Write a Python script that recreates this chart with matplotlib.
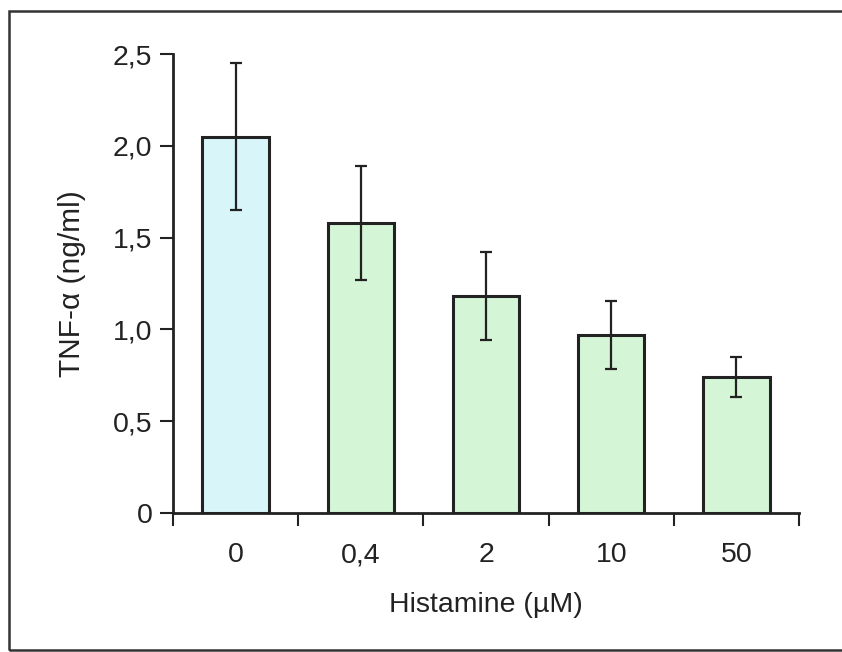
import matplotlib
matplotlib.use("Agg")
import matplotlib.pyplot as plt
from matplotlib.patches import Rectangle

categories = ["0", "0,4", "2", "10", "50"]
values = [2.05, 1.58, 1.18, 0.97, 0.74]
errors = [0.40, 0.31, 0.24, 0.185, 0.11]
colors = ["#D8F6FA", "#D4F5D6", "#D4F5D6", "#D4F5D6", "#D4F5D6"]
ytick_vals = [0, 0.5, 1.0, 1.5, 2.0, 2.5]
ytick_labels = ["0", "0,5", "1,0", "1,5", "2,0", "2,5"]

plt.rcParams['font.family'] = ['Liberation Sans', 'DejaVu Sans']

W, H = 842, 652
fig = plt.figure(figsize=(W / 100, H / 100), dpi=100)
ax = fig.add_axes([173 / W, (H - 513) / H, (799 - 173) / W, (513 - 54) / H])

x = list(range(len(categories)))
ax.bar(x, values, width=0.53, color=colors, edgecolor="#222222", linewidth=2.2, zorder=2)
ax.errorbar(x, values, yerr=errors, fmt="none", ecolor="#222222", elinewidth=1.6,
            capsize=4.5, capthick=1.6, zorder=3)

ax.set_xlim(-0.5, len(categories) - 0.5)
ax.set_ylim(0, 2.5)
ax.set_yticks(ytick_vals)
ax.set_yticklabels(ytick_labels, fontsize=20.5, color="#222222")
ax.set_xticks([i - 0.5 for i in range(len(categories) + 1)])
ax.set_xticklabels([])
ax.set_xticks(x, minor=True)
ax.set_xticklabels(categories, minor=True, fontsize=20.5, color="#222222")
ax.tick_params(axis="x", which="minor", length=0, pad=21)
ax.tick_params(axis="x", which="major", length=9.4, width=1.5, direction="out", color="#222222")
ax.tick_params(axis="y", length=9.4, width=1.5, direction="out", color="#222222", pad=5.5)

for s in ["top", "right"]:
    ax.spines[s].set_visible(False)
for s in ["left", "bottom"]:
    ax.spines[s].set_linewidth(2.0)
    ax.spines[s].set_color("#222222")

ax.set_xlabel("Histamine (µM)", fontsize=20.5, color="#222222", labelpad=17)
ax.set_ylabel("TNF-α (ng/ml)", fontsize=21.5, color="#222222", labelpad=19)

fig.patches.append(Rectangle((9 / W, (H - 650) / H), (860 - 9) / W, (650 - 11) / H,
                             transform=fig.transFigure, fill=False,
                             edgecolor="#333333", linewidth=1.8))

fig.savefig("out.png", dpi=100)
